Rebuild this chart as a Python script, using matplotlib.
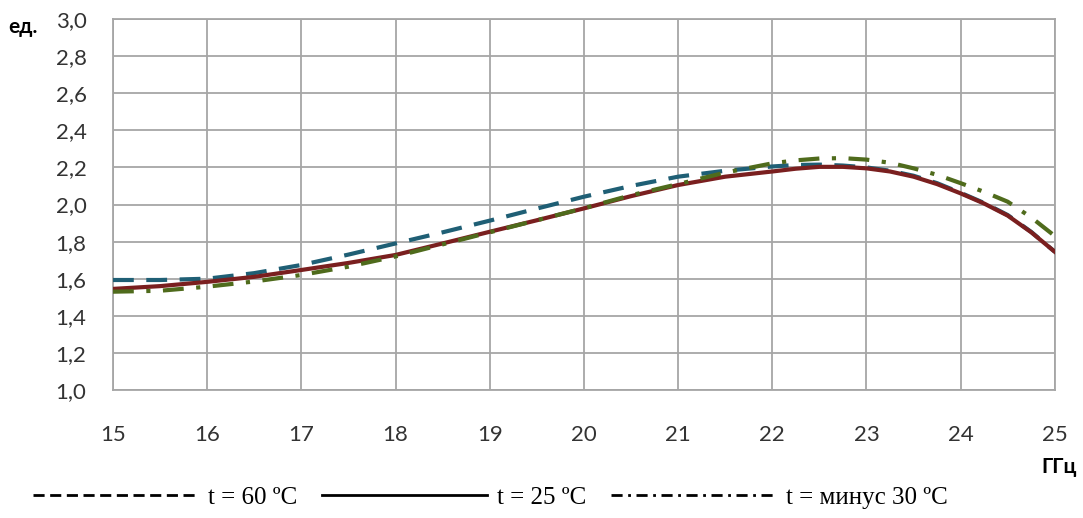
import matplotlib
matplotlib.use("Agg")
import matplotlib.pyplot as plt
from matplotlib.lines import Line2D

# Данные
freq = [15, 15.5, 16, 16.5, 17, 17.5, 18, 18.5, 19, 19.5, 20, 20.5,
        21, 21.5, 22, 22.25, 22.5, 22.75, 23, 23.25, 23.5, 23.75, 24, 24.25, 24.5, 24.75, 25]
t60 = [1.593, 1.593, 1.600, 1.630, 1.674, 1.730, 1.790, 1.850, 1.913, 1.978, 2.042, 2.100,
       2.150, 2.182, 2.205, 2.213, 2.215, 2.210, 2.200, 2.182, 2.155, 2.115, 2.063, 2.008,
       1.943, 1.852, 1.745]
t25 = [1.545, 1.560, 1.583, 1.610, 1.647, 1.685, 1.728, 1.790, 1.853, 1.915, 1.979, 2.045,
       2.105, 2.150, 2.178, 2.193, 2.203, 2.203, 2.195, 2.178, 2.150, 2.110, 2.060, 2.005,
       1.940, 1.850, 1.745]
tm30 = [1.530, 1.535, 1.557, 1.585, 1.620, 1.665, 1.720, 1.785, 1.850, 1.915, 1.980, 2.050,
        2.110, 2.172, 2.222, 2.238, 2.248, 2.250, 2.242, 2.225, 2.195, 2.160, 2.115, 2.068,
        2.015, 1.930, 1.830]

xticks = list(range(15, 26))
yticks = [1.0, 1.2, 1.4, 1.6, 1.8, 2.0, 2.2, 2.4, 2.6, 2.8, 3.0]
ylabels = ["1,0", "1,2", "1,4", "1,6", "1,8", "2,0", "2,2", "2,4", "2,6", "2,8", "3,0"]
legend_labels = ["t = 60 ºC", "t = 25 ºC", "t = минус 30 ºC"]

c60 = "#1f5f75"
c25 = "#7a1f1f"
cm30 = "#4f6b1c"

fig = plt.figure(figsize=(10.83, 5.18), dpi=100)
ax = fig.add_axes([0.1043, 0.2471, 0.8697, 0.7162])

ax.plot(freq, t60, color=c60, lw=3, dashes=(5, 3), zorder=3)
ax.plot(freq, t25, color=c25, lw=3, zorder=4)
ax.plot(freq, tm30, color=cm30, lw=3, dashes=(5, 3, 1, 3), zorder=5)

ax.set_xlim(15, 25)
ax.set_ylim(1.0, 3.0)
ax.set_xticks(xticks)
ax.set_xticklabels([str(v) for v in xticks])
ax.set_yticks(yticks)
ax.set_yticklabels(ylabels)
ax.grid(True, color="#a6a6a6", lw=1.3)
for s in ax.spines.values():
    s.set_color("#a6a6a6")
    s.set_linewidth(1.3)
ax.tick_params(length=0, labelsize=16, labelcolor="#333333")
ax.tick_params(axis="x", pad=25)
ax.tick_params(axis="y", pad=19)
for lab in ax.get_xticklabels() + ax.get_yticklabels():
    lab.set_family(["Lato", "DejaVu Sans"])

fig.text(8 / 1083, 1 - 27 / 518, "ед.", fontsize=15, fontweight="bold",
         family=["Lato", "DejaVu Sans"], va="center", ha="left")
fig.text(1077 / 1083, 1 - 467 / 518, "ГГц", fontsize=15, fontweight="bold",
         family=["Lato", "DejaVu Sans"], va="center", ha="right")

handles = [Line2D([], [], color="black", lw=2, dashes=(4, 2)),
           Line2D([], [], color="black", lw=2),
           Line2D([], [], color="black", lw=2, dashes=(4, 2, 1, 2))]
fig.legend(handles, legend_labels, loc="center", bbox_to_anchor=(0.453, 0.04),
           ncol=3, frameon=False, handlelength=6.6, handletextpad=0.4,
           columnspacing=1.0, prop={"family": "Liberation Serif", "size": 18})

fig.savefig("out.png", dpi=100)
